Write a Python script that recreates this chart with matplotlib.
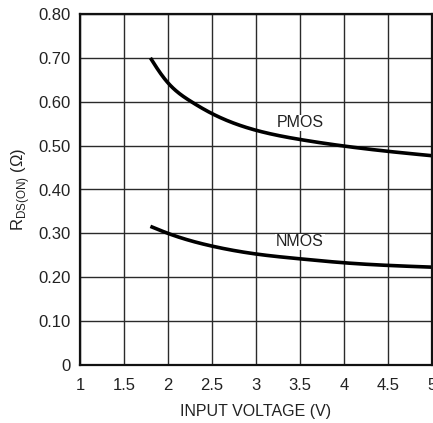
import matplotlib
matplotlib.use("Agg")
import matplotlib.pyplot as plt
from matplotlib import font_manager
import numpy as np

fams = [f.name for f in font_manager.fontManager.ttflist]
fam = "Liberation Sans Narrow" if "Liberation Sans Narrow" in fams else "Liberation Sans"
plt.rcParams['font.family'] = [fam, 'DejaVu Sans']
plt.rcParams['mathtext.fontset'] = 'custom'
plt.rcParams['mathtext.rm'] = fam

pmos_x = [1.8, 1.9, 2.0, 2.25, 2.5, 3.0, 3.5, 4.0, 4.5, 5.0]
pmos_y = [0.700, 0.669, 0.643, 0.602, 0.573, 0.535, 0.514, 0.499, 0.487, 0.477]
nmos_x = [1.8, 2.0, 2.5, 3.0, 3.5, 4.0, 4.5, 5.0]
nmos_y = [0.316, 0.300, 0.271, 0.253, 0.242, 0.233, 0.227, 0.223]
x_ticks = [1, 1.5, 2, 2.5, 3, 3.5, 4, 4.5, 5]
x_labels = ["1", "1.5", "2", "2.5", "3", "3.5", "4", "4.5", "5"]
y_ticks = [0, 0.1, 0.2, 0.3, 0.4, 0.5, 0.6, 0.7, 0.8]
y_labels = ["0", "0.10", "0.20", "0.30", "0.40", "0.50", "0.60", "0.70", "0.80"]


def spline(x, y, n=300):
    # natural cubic spline through the read points
    x = np.asarray(x, float); y = np.asarray(y, float)
    k = len(x); h = np.diff(x)
    A = np.zeros((k, k)); r = np.zeros(k)
    A[0, 0] = A[-1, -1] = 1
    for i in range(1, k - 1):
        A[i, i-1] = h[i-1]; A[i, i] = 2*(h[i-1] + h[i]); A[i, i+1] = h[i]
        r[i] = 6*((y[i+1]-y[i])/h[i] - (y[i]-y[i-1])/h[i-1])
    M = np.linalg.solve(A, r)
    xs = np.linspace(x[0], x[-1], n)
    i = np.clip(np.searchsorted(x, xs) - 1, 0, k - 2)
    a = x[i+1] - xs; b = xs - x[i]; hh = h[i]
    ys = (M[i]*a**3 + M[i+1]*b**3)/(6*hh) + (y[i]/hh - M[i]*hh/6)*a + (y[i+1]/hh - M[i+1]*hh/6)*b
    return xs, ys


fig = plt.figure(figsize=(4.33, 4.23), dpi=100)
ax = fig.add_axes([80/433, 1 - 365/423, 352/433, 351/423])
ax.set_xlim(1, 5)
ax.set_ylim(0, 0.8)
ax.set_xticks(x_ticks)
ax.set_xticklabels(x_labels)
ax.set_yticks(y_ticks)
ax.set_yticklabels(y_labels)
ax.tick_params(axis='x', length=0, labelsize=12, pad=9, colors='#222222')
ax.tick_params(axis='y', length=0, labelsize=12, pad=7, colors='#222222')
ax.grid(True, color='#2a2a2a', linewidth=1.0)
ax.set_axisbelow(True)
for s in ax.spines.values():
    s.set_linewidth(1.6)
    s.set_color('#111111')

xs, ys = spline(pmos_x, pmos_y)
ax.plot(xs, ys, color='black', linewidth=2.6, solid_capstyle='butt')
xs, ys = spline(nmos_x, nmos_y)
ax.plot(xs, ys, color='black', linewidth=2.6, solid_capstyle='butt')

ax.text(3.5, 0.552, "PMOS", ha='center', va='center', fontsize=11.5, color='#222222',
        bbox=dict(facecolor='white', edgecolor='none', pad=0.5))
ax.text(3.5, 0.281, "NMOS", ha='center', va='center', fontsize=11.5, color='#222222',
        bbox=dict(facecolor='white', edgecolor='none', pad=0.5))

ax.set_xlabel("INPUT VOLTAGE (V)", fontsize=11.5, color='#222222', labelpad=8)
ax.set_ylabel(r"R$_{\mathregular{DS(ON)}}$ (Ω)", fontsize=12, color='#222222', labelpad=4)

fig.savefig("out.png", dpi=100)
